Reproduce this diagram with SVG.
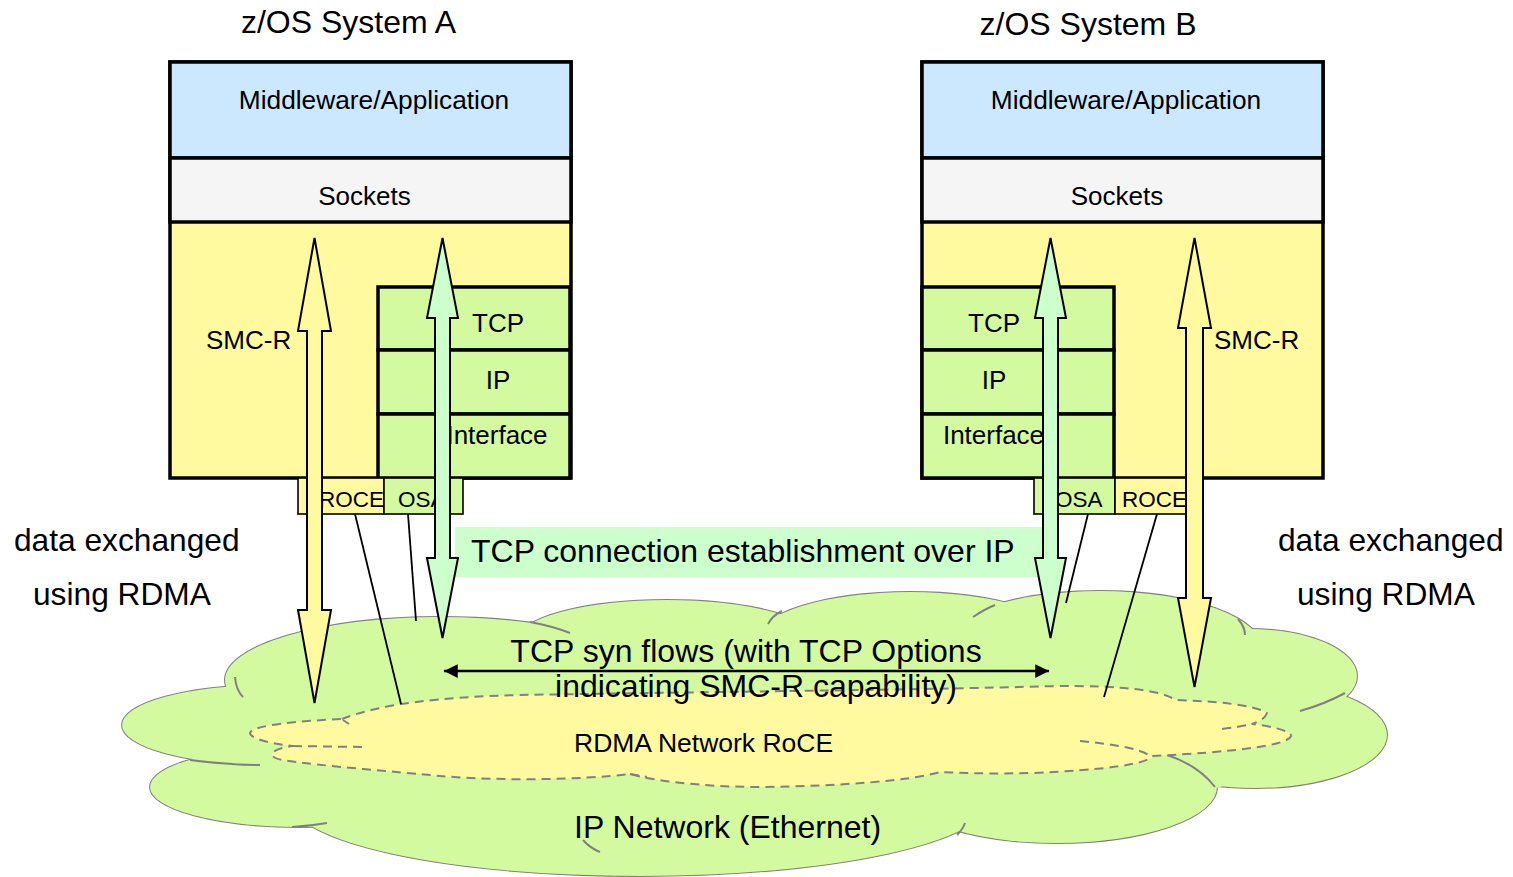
<svg xmlns="http://www.w3.org/2000/svg" width="1513" height="877" viewBox="0 0 1513 877">
<defs>
<style>
text{font-family:"Liberation Sans",Arial,sans-serif;fill:#000}
.box{stroke:#000;stroke-width:3.5}
.thin{stroke:#000;stroke-width:1.6}
.blue{fill:#CCE8FF}.grey{fill:#F5F5F5}.yel{fill:#FFFAA0}.grn{fill:#D4FA9F}.mint{fill:#CCFFCC}
.cs{fill:none;stroke:#808080;stroke-width:2}
.cf{fill:#D4FA9F;stroke:none}
.ys{fill:none;stroke:#808080;stroke-width:2;stroke-dasharray:9 6}
.arr{stroke:#000;stroke-width:2;stroke-linejoin:miter}
.ln{stroke:#000;stroke-width:1.8;fill:none}
</style>
<marker id="ah" viewBox="0 0 10 10" refX="10" refY="5" markerWidth="6" markerHeight="5.5" orient="auto-start-reverse" markerUnits="strokeWidth"><path d="M0,0 L10,5 L0,10 Z" fill="#000"/></marker>
</defs>
<rect width="1513" height="877" fill="#fff"/>

<g id="ip-network">
<g class="cs">
<ellipse cx="270" cy="725" rx="148" ry="40"/>
<ellipse cx="440" cy="680" rx="215" ry="63"/>
<ellipse cx="667" cy="640" rx="149" ry="40"/>
<ellipse cx="910" cy="640" rx="153" ry="48"/>
<ellipse cx="1100" cy="650" rx="163" ry="59"/>
<ellipse cx="1250" cy="676" rx="107" ry="47"/>
<ellipse cx="1255" cy="735" rx="132" ry="53"/>
<ellipse cx="1057" cy="787" rx="160" ry="56"/>
<ellipse cx="640" cy="800" rx="350" ry="76"/>
<ellipse cx="300" cy="787" rx="150" ry="40"/>
</g>
<g class="cf">
<ellipse cx="270" cy="725" rx="148" ry="40"/>
<ellipse cx="440" cy="680" rx="215" ry="63"/>
<ellipse cx="667" cy="640" rx="149" ry="40"/>
<ellipse cx="910" cy="640" rx="153" ry="48"/>
<ellipse cx="1100" cy="650" rx="163" ry="59"/>
<ellipse cx="1250" cy="676" rx="107" ry="47"/>
<ellipse cx="1255" cy="735" rx="132" ry="53"/>
<ellipse cx="1057" cy="787" rx="160" ry="56"/>
<ellipse cx="640" cy="800" rx="350" ry="76"/>
<ellipse cx="300" cy="787" rx="150" ry="40"/>
<ellipse cx="760" cy="730" rx="560" ry="100"/>
</g>
<g class="cs">
<path d="M235,677 Q236,690 243,697"/>
<path d="M530,622 Q552,626 570,633"/>
<path d="M768,624 Q772,616 782,611"/>
<path d="M973,617 Q985,609 995,605"/>
<path d="M1245,635 Q1245,627 1238,619"/>
<path d="M1300,711 Q1325,704 1345,693"/>
<path d="M1167,755 Q1198,765 1215,787"/>
<path d="M957,835 Q963,829 965,823"/>
<path d="M583,840 Q590,848 600,852"/>
<path d="M190,760 Q230,765 260,765"/>
<path d="M292,827 Q310,826 327,823"/>
</g>
<text x="574" y="838" font-size="32">IP Network (Ethernet)</text>
</g>

<g id="rdma-network">
<path class="yel" stroke="none" d="M342,719 C380,704 440,697 520,695 C700,692 900,690 1020,687 C1100,684 1160,688 1175,700 C1215,701 1255,705 1267,713 C1265,719 1258,722 1252,724 C1270,726 1292,731 1291,736 C1288,746 1230,752 1153,756 C1145,765 1100,770 1033,773 C990,774 960,773 940,772 C910,781 840,786 760,787 C700,787 650,780 630,774 C580,780 500,781 440,776 C400,772 320,766 283,760 C265,757 270,749 293,746 C270,744 250,738 250,733 C252,725 300,721 342,719 Z"/>
<path class="ys" d="M342,719 C380,704 440,697 520,695 C700,692 900,690 1020,687 C1100,684 1160,688 1175,700 C1215,701 1255,705 1267,713 C1265,719 1258,722 1252,724 C1270,726 1292,731 1291,736 C1288,746 1230,752 1153,756 C1145,765 1100,770 1033,773 C990,774 960,773 940,772 C910,781 840,786 760,787 C700,787 650,780 630,774 C580,780 500,781 440,776 C400,772 320,766 283,760 C265,757 270,749 293,746 C270,744 250,738 250,733 C252,725 300,721 342,719 Z"/>
<path class="ys" d="M1222,729 Q1240,727 1252,724"/>
<path class="ys" d="M1080,741 C1110,744 1140,748 1150,756"/>
<path class="ys" d="M293,746 L363,747"/>
<path class="ys" d="M343,720 L349,724"/>
<path class="ys" d="M630,774 L647,777"/>
<text x="574" y="752" font-size="26.5">RDMA Network RoCE</text>
</g>

<g id="titles">
<text x="348.5" y="33" font-size="32" text-anchor="middle">z/OS System A</text>
<text x="1088" y="35" font-size="32" text-anchor="middle">z/OS System B</text>
</g>

<g id="system-a">
<rect class="box yel" x="170" y="62" width="401" height="416"/>
<rect class="box blue" x="170" y="62" width="401" height="96"/>
<rect class="box grey" x="170" y="158" width="401" height="64"/>
<text x="374" y="109" font-size="26.3" text-anchor="middle">Middleware/Application</text>
<text x="364.5" y="205" font-size="26" text-anchor="middle">Sockets</text>
<text x="206" y="349" font-size="26">SMC-R</text>
</g>
<g id="stack-a">
<rect class="box grn" x="378" y="287" width="192" height="63"/>
<rect class="box grn" x="378" y="350" width="192" height="64"/>
<rect class="box grn" x="378" y="414" width="192" height="64"/>
<text x="498" y="332" font-size="26" text-anchor="middle">TCP</text>
<text x="498" y="389" font-size="26" text-anchor="middle">IP</text>
<text x="497" y="444" font-size="26" text-anchor="middle">Interface</text>
</g>
<g id="adapters-a">
<rect class="thin yel" x="298" y="478" width="86" height="36"/>
<rect class="thin grn" x="384" y="478" width="79" height="36"/>
<svg x="298" y="478" width="86" height="36" overflow="hidden"><text x="21" y="29" font-size="22.5">ROCE</text></svg>
<text x="398" y="507" font-size="22.5">OSA</text>
</g>

<g id="system-b">
<rect class="box yel" x="922" y="62" width="401" height="416"/>
<rect class="box blue" x="922" y="62" width="401" height="96"/>
<rect class="box grey" x="922" y="158" width="401" height="64"/>
<text x="1126" y="109" font-size="26.3" text-anchor="middle">Middleware/Application</text>
<text x="1117" y="205" font-size="26" text-anchor="middle">Sockets</text>
<text x="1214" y="349" font-size="26">SMC-R</text>
</g>
<g id="stack-b">
<rect class="box grn" x="922" y="287" width="192" height="63"/>
<rect class="box grn" x="922" y="350" width="192" height="64"/>
<rect class="box grn" x="922" y="414" width="192" height="64"/>
<text x="994" y="332" font-size="26" text-anchor="middle">TCP</text>
<text x="994" y="389" font-size="26" text-anchor="middle">IP</text>
<text x="993.5" y="444" font-size="26" text-anchor="middle">Interface</text>
</g>
<g id="adapters-b">
<rect class="thin grn" x="1034" y="478" width="81" height="36"/>
<rect class="thin yel" x="1115" y="478" width="72" height="36"/>
<text x="1055" y="507" font-size="22.5">OSA</text>
<text x="1122" y="507" font-size="22.5">ROCE</text>
</g>

<g id="side-labels">
<text x="14" y="551" font-size="31.7">data exchanged</text>
<text x="33" y="605" font-size="31.7">using RDMA</text>
<text x="1278" y="551" font-size="31.7">data exchanged</text>
<text x="1297" y="605" font-size="31.7">using RDMA</text>
</g>

<g id="tcp-label">
<rect class="mint" x="455" y="527" width="590" height="50"/>
<text x="471" y="562" font-size="32">TCP connection establishment over IP</text>
</g>

<g id="connectors">
<line class="ln" x1="355" y1="514" x2="401" y2="704"/>
<line class="ln" x1="408" y1="514" x2="416" y2="621"/>
<line class="ln" x1="1088" y1="514" x2="1066" y2="603"/>
<line class="ln" x1="1157" y1="514" x2="1104" y2="697"/>
<path class="arr yel" d="M314.5,238 L331,331 L322,331 L322,610 L331,610 L314.5,703 L298,610 L307,610 L307,331 L298,331 Z"/>
<path class="arr mint" d="M442.5,238 L458,318 L450,318 L450,558 L458,558 L442.5,638 L427,558 L435,558 L435,318 L427,318 Z"/>
<path class="arr mint" d="M1050.5,238 L1066,318 L1058,318 L1058,558 L1066,558 L1050.5,638 L1035,558 L1043,558 L1043,318 L1035,318 Z"/>
<path class="arr yel" d="M1194.5,238 L1211,328 L1203,328 L1203,598 L1211,598 L1194.5,687 L1178,598 L1186,598 L1186,328 L1178,328 Z"/>
<line x1="444" y1="671" x2="1049" y2="671" stroke="#000" stroke-width="2.5" marker-start="url(#ah)" marker-end="url(#ah)"/>
</g>

<g id="syn-label">
<text x="746" y="662" font-size="32" text-anchor="middle">TCP syn flows (with TCP Options</text>
<text x="756" y="697" font-size="32" text-anchor="middle">indicating SMC-R capability)</text>
</g>
</svg>
